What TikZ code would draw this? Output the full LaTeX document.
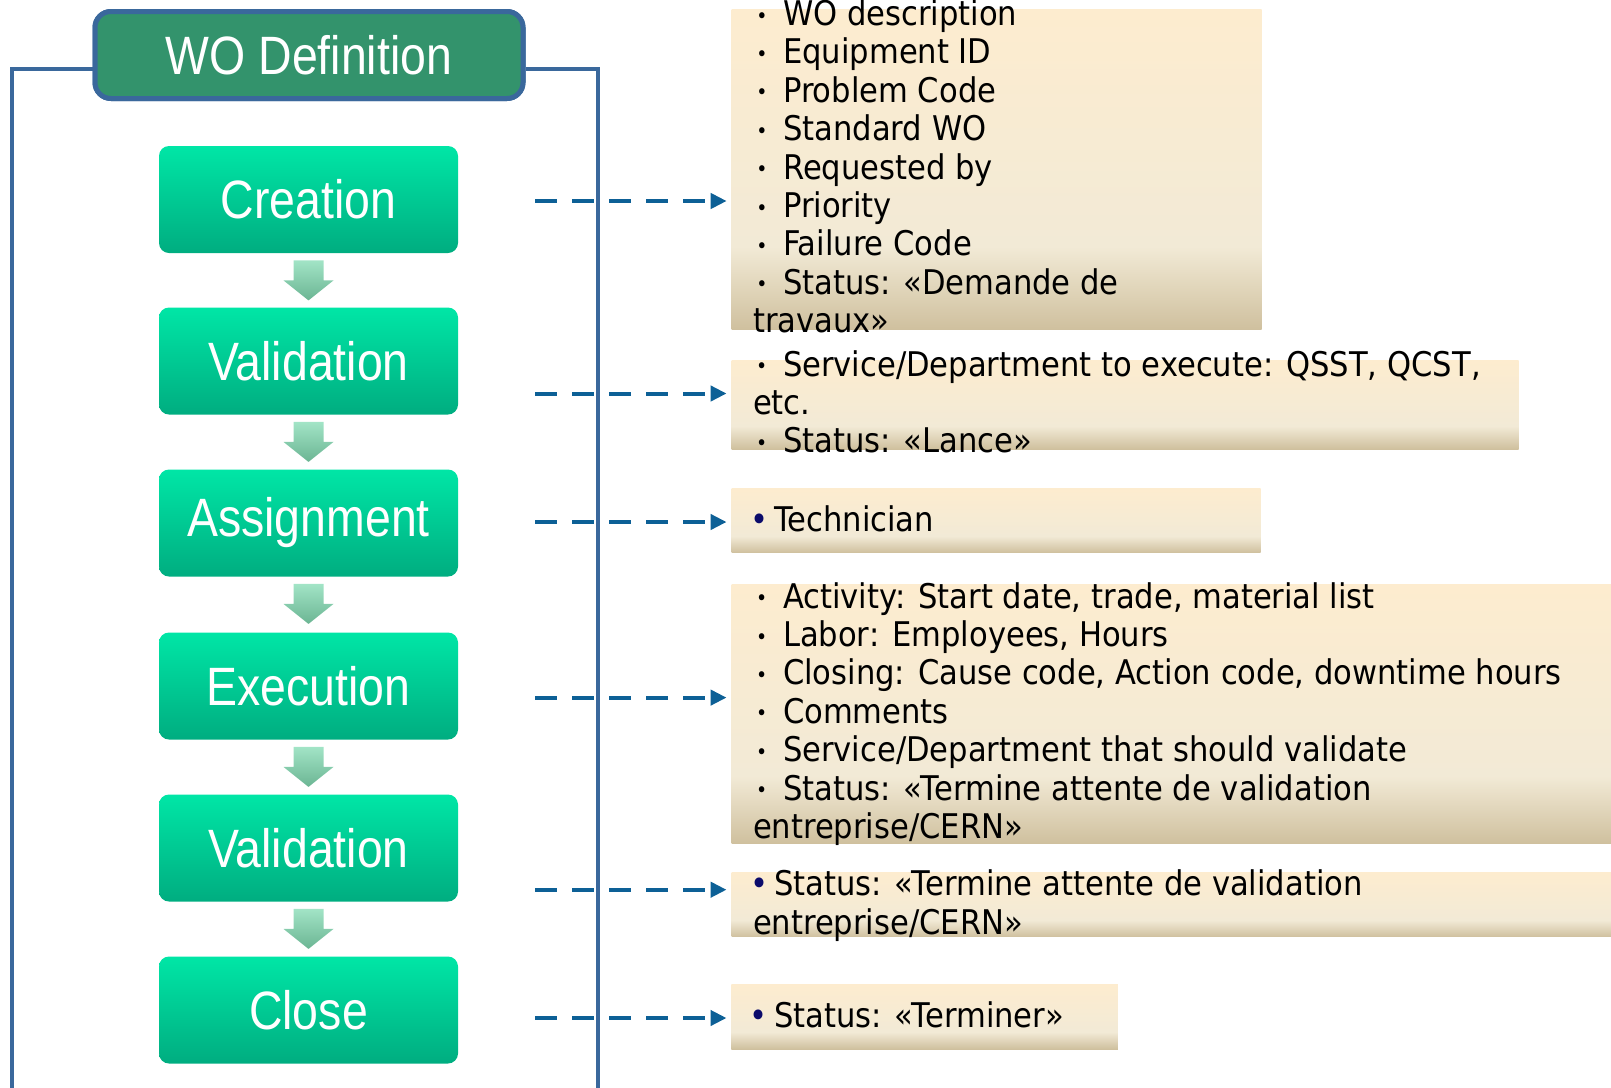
\documentclass[tikz,border=0pt]{standalone}
\usepackage{fontspec}
\setmainfont{DejaVu Sans}
\newfontfamily\boxfont[FakeStretch=0.86]{Liberation Sans}
\newfontfamily\infofont[FakeStretch=0.9]{DejaVu Sans}
\usetikzlibrary{arrows.meta}

\definecolor{stepTop}{HTML}{00E6A6}
\definecolor{stepBot}{HTML}{00AD80}
\definecolor{titleFill}{HTML}{33936C}
\definecolor{frameBlue}{HTML}{3A689C}
\definecolor{linkBlue}{HTML}{0D6096}
\definecolor{flowTop}{HTML}{A2E4C6}
\definecolor{flowBot}{HTML}{6BB593}
\definecolor{infoTop}{HTML}{FDECCF}
\definecolor{infoMid}{HTML}{F2EAD6}
\definecolor{infoBot}{HTML}{CFC09E}
\definecolor{bulletNavy}{HTML}{0B0B6B}

\pgfdeclareverticalshading{infoshade}{100bp}{color(0bp)=(infoBot); color(25bp)=(infoBot); color(38bp)=(infoMid); color(75bp)=(infoTop); color(100bp)=(infoTop)}

\newcommand{\dotitem}{\makebox[15pt][l]{\hspace{1.6pt}\raisebox{1.2pt}{\fontsize{10.5}{10.5}\selectfont •}}}
\newcommand{\bigdot}{\hspace{-1.5pt}{\color{bulletNavy}•}\hspace{3pt}}

\tikzset{
	stepbox/.style={rounded corners=5pt, top color=stepTop, bottom color=stepBot,
		minimum width=149.5pt, minimum height=53.5pt, inner sep=0pt,
		text=white, font=\boxfont\fontsize{27}{30}\selectfont},
	titlebox/.style={rounded corners=8pt, fill=titleFill, draw=frameBlue, line width=2.5pt,
		minimum width=214pt, minimum height=43.5pt, inner sep=0pt,
		text=white, font=\boxfont\fontsize{27}{30}\selectfont},
	frame/.style={draw=frameBlue, line width=2.25pt},
	flowarrow/.style={top color=flowTop, bottom color=flowBot},
	infolink/.style={draw=linkBlue, line width=2pt, dash pattern=on 11pt off 7.5pt,
		-{Triangle[length=8pt,width=7.5pt]}, shorten >=2.25pt},
	infobox/.style={shading=infoshade, inner sep=0pt},
	infotext/.style={anchor=west, align=left, inner sep=0pt,
		font=\infofont\fontsize{17}{19.2}\selectfont}
}

\begin{document}
\begin{tikzpicture}[x=0.5pt,y=-0.5pt]
	\useasboundingbox (0,0) rectangle (1611,1087);
	
	\coordinate (fl) at (12,1090);
	\coordinate (fr) at (598,1090);
	
	\node[titlebox] (title) at (309,55) {WO Definition};
	\draw[frame] ([yshift=-7pt]title.west) -| (fl);
	\draw[frame] ([yshift=-7pt]title.east) -| (fr);
	\node[titlebox] at (title) {WO Definition};
	
	\node[stepbox] (crea) at (308.5,199.5) {Creation};
	\node[stepbox] (vali) at (308.5,361) {Validation};
	\node[stepbox] (assi) at (308.5,523) {Assignment};
	\node[stepbox] (exec) at (308.5,686) {Execution};
	\node[stepbox] (valb) at (308.5,848) {Validation};
	\node[stepbox] (clos) at (308.5,1010) {Close};
	
	\shade[flowarrow] ([shift={(-15,7)}]crea.south) -- ++(30,0) -- ++(0,20) -- ++(10,0) -- ++(-25,20) -- ++(-25,-20) -- ++(10,0) -- cycle;
	\shade[flowarrow] ([shift={(-15,7)}]vali.south) -- ++(30,0) -- ++(0,20) -- ++(10,0) -- ++(-25,20) -- ++(-25,-20) -- ++(10,0) -- cycle;
	\shade[flowarrow] ([shift={(-15,7)}]assi.south) -- ++(30,0) -- ++(0,20) -- ++(10,0) -- ++(-25,20) -- ++(-25,-20) -- ++(10,0) -- cycle;
	\shade[flowarrow] ([shift={(-15,7)}]exec.south) -- ++(30,0) -- ++(0,20) -- ++(10,0) -- ++(-25,20) -- ++(-25,-20) -- ++(10,0) -- cycle;
	\shade[flowarrow] ([shift={(-15,7)}]valb.south) -- ++(30,0) -- ++(0,20) -- ++(10,0) -- ++(-25,20) -- ++(-25,-20) -- ++(10,0) -- cycle;
	
	%-------------------------------------
	\node[infobox, minimum width=265pt, minimum height=160.3pt] (b1) at (996.6,169.5) {};
	\node[infobox, minimum width=393.5pt, minimum height=44.2pt] (b2) at (1125,404.8) {};
	\node[infobox, minimum width=264.5pt, minimum height=31.85pt] (b3) at (996,520.8) {};
	\node[infobox, minimum width=439.75pt, minimum height=129.45pt] (b4) at (1171.25,714) {};
	\node[infobox, minimum width=439.75pt, minimum height=32.35pt] (b5) at (1171.25,904.6) {};
	\node[infobox, minimum width=193.15pt, minimum height=32.5pt] (b6) at (924.6,1016.5) {};
	
	\node[infotext] (t1) at ([xshift=10.75pt,yshift=1.5pt]b1.west) {\dotitem WO description\\
		\dotitem Equipment ID\\
		\dotitem Problem Code\\
		\dotitem Standard WO\\
		\dotitem Requested by\\
		\dotitem Priority\\
		\dotitem Failure Code\\
		\dotitem Status: «Demande de\\
		travaux»};
	\node[infotext] (t2) at ([xshift=10.75pt,yshift=1.5pt]b2.west) {\dotitem Service/Department to execute: QSST, QCST,\\
		etc.\\
		\dotitem Status: «Lance»};
	\node[infotext] (t3) at ([xshift=10.75pt,yshift=1pt]b3.west) {\bigdot Technician};
	\node[infotext] (t4) at ([xshift=10.75pt,yshift=0pt]b4.west) {\dotitem Activity: Start date, trade, material list\\
		\dotitem Labor: Employees, Hours\\
		\dotitem Closing: Cause code, Action code, downtime hours\\
		\dotitem Comments\\
		\dotitem Service/Department that should validate\\
		\dotitem Status: «Termine attente de validation\\
		entreprise/CERN»};
	\node[infotext] (t5) at ([xshift=10.75pt,yshift=-0.5pt]b5.west) {\bigdot Status: «Termine attente de validation\\
		entreprise/CERN»};
	\node[infotext] (t6) at ([xshift=10.75pt,yshift=1pt]b6.west) {\bigdot Status: «Terminer»};
	
	%-------------------------------------
	\coordinate (l1) at (535,201);
	\coordinate (l2) at (535,393.5);
	\coordinate (l3) at (535,522);
	\coordinate (l4) at (535,697.6);
	\coordinate (l5) at (535,889.7);
	\coordinate (l6) at (535,1018);
	
	\draw[infolink] (l1) -- (l1 -| b1.west);
	\draw[infolink] (l2) -- (l2 -| b2.west);
	\draw[infolink] (l3) -- (l3 -| b3.west);
	\draw[infolink] (l4) -- (l4 -| b4.west);
	\draw[infolink] (l5) -- (l5 -| b5.west);
	\draw[infolink] (l6) -- (l6 -| b6.west);
	
\end{tikzpicture}
\end{document}
